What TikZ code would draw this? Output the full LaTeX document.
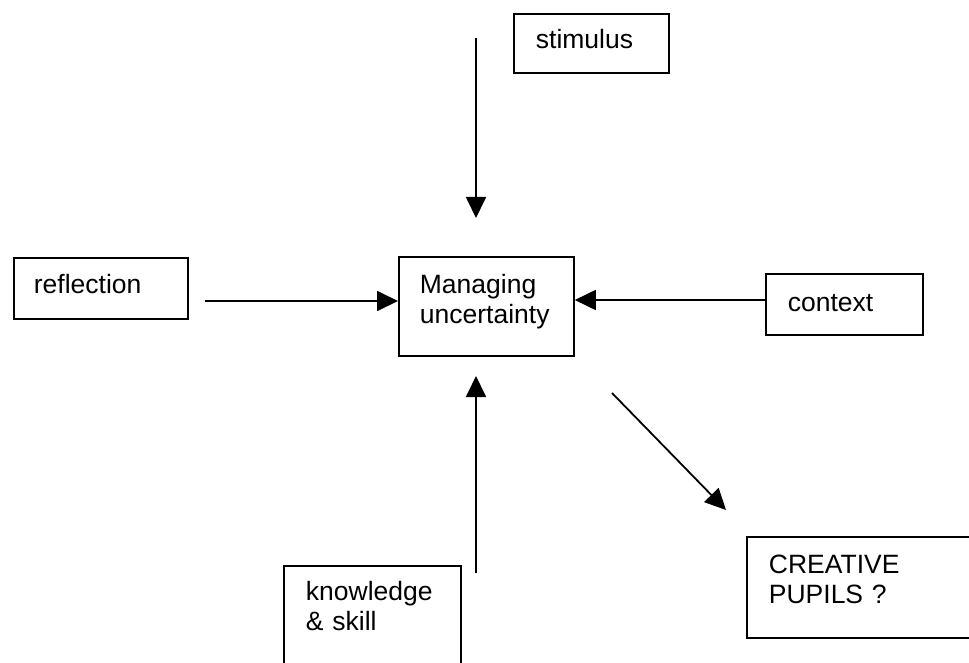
\documentclass[tikz,border=0pt]{standalone}
\usepackage{fontspec}
\setmainfont{Liberation Sans}
\usetikzlibrary{arrows.meta}
\begin{document}
\begin{tikzpicture}[x=1pt,y=-1pt,
  box/.style={draw, line width=1.8pt, anchor=north west, align=left, inner ysep=0pt,
              font=\fontsize{26.5}{30}\selectfont},
  conn/.style={line width=1.8pt, -{Triangle[length=21pt,width=20pt]}}]
\useasboundingbox (0,0) rectangle (969,663);
\clip (0,0) rectangle (969,663);
% boxes
\node[box, inner xsep=22pt, text width=111pt, text height=35pt, text depth=24pt] (stim) at (513,13) {stimulus};
\node[box, inner xsep=20pt, text width=134pt, text height=36pt, text depth=25pt] (refl) at (13,257) {reflection};
\node[box, inner xsep=21pt, text width=133pt, text height=37pt, text depth=62pt] (mu) at (398,256) {Managing\\uncertainty};
\node[box, inner xsep=22pt, text width=113pt, text height=38pt, text depth=23pt] (ctx) at (765,273) {context};
\node[box, inner xsep=22pt, text width=133pt, text height=35pt, text depth=120pt] (know) at (283,565) {knowledge\\\& skill};
\node[box, inner xsep=22pt, text width=260pt, text height=37pt, text depth=64pt] (crea) at (746,536) {CREATIVE\\PUPILS ?};
% free ends of connectors
\coordinate (sTop) at (476,38);
\coordinate (sTip) at (476,218);
\coordinate (rS) at (205,301);
\coordinate (cS) at (765,300);
\coordinate (kS) at (476,573);
\coordinate (kT) at (476,376);
\coordinate (dS) at (612,393);
\coordinate (dT) at (726,510);
% connectors
\draw[conn] (sTop) -- (sTip);
\draw[conn] (rS) -- (rS -| mu.west);
\draw[conn] (cS) -- (cS -| mu.east);
\draw[conn] (kS) -- (kT);
\draw[conn] (dS) -- (dT);
\end{tikzpicture}
\end{document}
